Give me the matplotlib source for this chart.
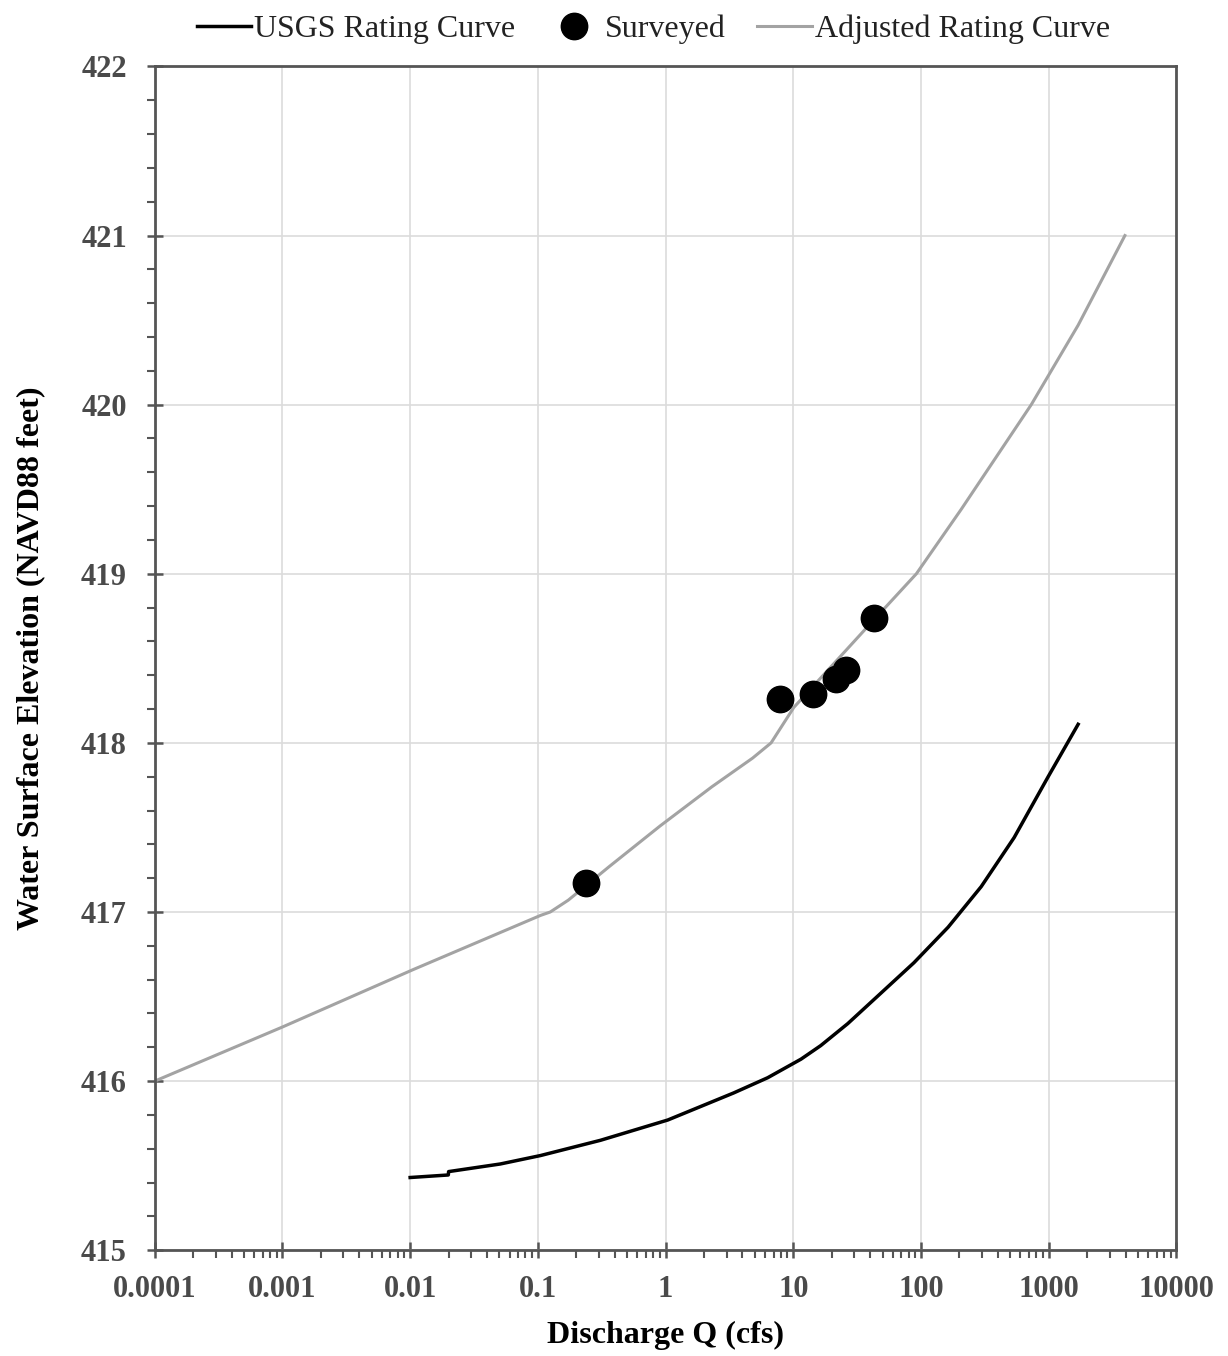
import numpy as np
import matplotlib
matplotlib.use("Agg")
import matplotlib.pyplot as plt
from matplotlib.ticker import LogLocator, FixedLocator, MultipleLocator, NullFormatter

# USGS rating curve (discharge cfs, elevation ft)
usgs_q = [0.01, 0.0199, 0.02, 0.0508, 0.105, 0.309, 1.04, 3.41, 6.3, 11.5, 16.4, 26.7,
          48.5, 88, 163, 296, 536, 990, 1700]
usgs_wse = [415.43, 415.445, 415.465, 415.51, 415.56, 415.65, 415.77, 415.93, 416.02, 416.13, 416.21, 416.34,
            416.52, 416.70, 416.91, 417.15, 417.44, 417.80, 418.11]

# adjusted rating curve
adj_q = [0.0001, 0.001, 0.0106, 0.105, 0.125, 0.173, 0.364, 0.91, 2.3, 4.8, 6.7, 10.1, 36.4,
         92, 206, 730, 1700, 3950]
adj_wse = [416.0, 416.32, 416.66, 416.98, 417.0, 417.07, 417.27, 417.51, 417.74, 417.91, 418.0, 418.21, 418.67,
           419.0, 419.38, 420.0, 420.47, 421.0]

# surveyed points
surv_q = [0.24, 7.8, 14.2, 21.5, 25.8, 42.8]
surv_wse = [417.17, 418.26, 418.29, 418.38, 418.43, 418.74]

xticks = [0.0001, 0.001, 0.01, 0.1, 1, 10, 100, 1000, 10000]
xlabels = ["0.0001", "0.001", "0.01", "0.1", "1", "10", "100", "1000", "10000"]

plt.rcParams['font.family'] = ['Liberation Serif', 'DejaVu Serif']

fig = plt.figure(figsize=(12.28, 13.56), dpi=100)
ax = fig.add_axes([0.126, 0.078, 0.832, 0.873])

ax.plot(usgs_q, usgs_wse, color="black", lw=2.5, label="USGS Rating Curve", zorder=3)
ax.plot(surv_q, surv_wse, "o", color="black", ms=19, label="Surveyed", zorder=4)
ax.plot(adj_q, adj_wse, color="#a3a3a3", lw=2.2, label="Adjusted Rating Curve", zorder=2)

ax.set_xscale("log")
ax.set_xlim(0.0001, 10000)
ax.set_ylim(415, 422)
ax.xaxis.set_major_locator(FixedLocator(xticks))
ax.set_xticklabels(xlabels)
ax.xaxis.set_minor_locator(LogLocator(base=10, subs=np.arange(2, 10), numticks=20))
ax.xaxis.set_minor_formatter(NullFormatter())
ax.yaxis.set_major_locator(MultipleLocator(1))
ax.yaxis.set_minor_locator(MultipleLocator(0.2))

ax.grid(True, which="major", color="#dcdcdc", lw=1.2, zorder=0)
for s in ax.spines.values():
    s.set_color("#555555")
    s.set_linewidth(2)

ax.tick_params(axis="both", which="major", direction="inout", length=12, width=1.8, color="#555555",
               labelsize=22, labelcolor="#4a4a4a")
ax.tick_params(axis="x", which="major", pad=12)
ax.tick_params(axis="y", which="major", pad=14)
ax.tick_params(axis="both", which="minor", direction="out", length=6, width=1.5, color="#555555")
for lab in ax.get_xticklabels() + ax.get_yticklabels():
    lab.set_fontweight("bold")

ax.set_xlabel("Discharge Q (cfs)", fontsize=23, fontweight="bold", labelpad=12)
ax.set_ylabel("Water Surface Elevation (NAVD88 feet)", fontsize=23, fontweight="bold", labelpad=26)

leg = ax.legend(loc="lower center", bbox_to_anchor=(0.488, 1.0), ncol=3, frameon=False,
                fontsize=23, handlelength=1.7, handletextpad=0.1, columnspacing=1.0,
                borderaxespad=0.3)
for t in leg.get_texts():
    t.set_color("#222222")

fig.savefig("out.png", dpi=100)
